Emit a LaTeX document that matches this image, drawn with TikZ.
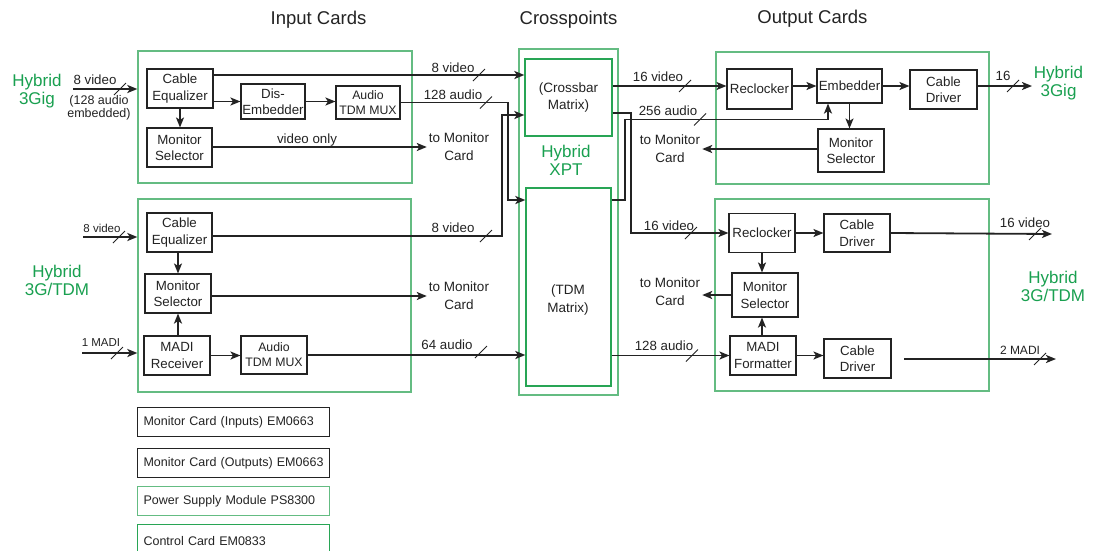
\documentclass[tikz,border=0pt]{standalone}
\usepackage{fontspec}
\setmainfont{Liberation Sans}
\usetikzlibrary{arrows.meta}
\definecolor{gfr}{RGB}{100,188,130}
\definecolor{gdk}{RGB}{40,165,85}
\definecolor{gtx}{RGB}{25,160,80}
\definecolor{ink}{RGB}{35,35,35}
\newcommand{\busmark}[1]{\draw[slash] (#1) ++(-6,6) -- ++(12,-12);}
\tikzset{
  card/.style={draw=gfr, line width=1.3pt, inner sep=0pt},
  cardd/.style={draw=gdk, line width=1.3pt, inner sep=0pt},
  blk/.style={draw=ink, line width=1.1pt, align=center, inner sep=0pt, text=ink, font=\fontsize{13.3}{16.5}\selectfont},
  blks/.style={blk, font=\fontsize{12.3}{15}\selectfont},
  lbl/.style={text=ink, inner sep=0pt, align=center, font=\fontsize{13.3}{16}\selectfont},
  lbls/.style={text=ink, inner sep=0pt, font=\fontsize{11.5}{14}\selectfont},
  tmc/.style={text=ink, inner sep=2pt, align=center, font=\fontsize{13.5}{18}\selectfont},
  grn/.style={text=gtx, inner sep=0pt, align=center, font=\fontsize{17}{18}\selectfont},
  ttl/.style={text=ink, inner sep=0pt, font=\fontsize{18.5}{20}\selectfont},
  legend/.style={line width=1.1pt, inner xsep=6pt, inner ysep=0pt, minimum width=192pt, text width=180pt, align=left, text=ink, font=\fontsize{12.5}{15}\selectfont, anchor=north west},
  wire/.style={draw=ink, line width=1.8pt},
  arr/.style={wire, -{Stealth[length=10pt,width=8pt,inset=2.5pt]}},
  slash/.style={draw=ink, line width=0.8pt}
}
\begin{document}
\begin{tikzpicture}[x=1pt,y=-1pt]
\useasboundingbox[fill=white] (0,0) rectangle (1093,550);

% titles
\node[ttl] (t1) at (318.5,20) {Input Cards};
\node[ttl] (t2) at (568.5,20) {Crosspoints};
\node[ttl] (t3) at (812.5,19) {Output Cards};

% ---------- input card 1 ----------
\node[card, minimum width=274pt, minimum height=132pt] (ic1) at (275,117) {};
\node[blk, minimum width=66pt, minimum height=39pt] (ce1) at (180,88.5) {Cable\\Equalizer};
\node[blk, minimum width=64pt, minimum height=35pt] (de) at (273,101.5) {Dis-\\Embedder};
\node[blks, minimum width=64pt, minimum height=33pt] (am1) at (368,102.5) {Audio\\TDM MUX};
\node[blk, minimum width=65pt, minimum height=39pt] (ms1) at (179.5,147.5) {Monitor\\Selector};
\node[tmc] (tm1) at (459,147) {to Monitor\\Card};
\node[lbl] (vo) at (307,140) {video only};

\node[grn] (h1) at (37,91) {Hybrid\\3Gig};
\coordinate (in1) at (73,89);
\node[lbl] (l1) at (95,80) {8 video};
\node[lbl, font=\fontsize{12.5}{13}\selectfont] (l1b) at (99,108) {(128 audio\\embedded)};

% ---------- input card 2 ----------
\node[card, minimum width=273pt, minimum height=193pt] (ic2) at (274.5,295.5) {};
\node[blk, minimum width=65pt, minimum height=39pt] (ce2) at (179.5,232.5) {Cable\\Equalizer};
\node[blk, minimum width=66pt, minimum height=39pt] (ms2) at (178,293.5) {Monitor\\Selector};
\node[blk, minimum width=66pt, minimum height=39pt] (mr) at (177,355.5) {MADI\\Receiver};
\node[blks, minimum width=66pt, minimum height=38pt] (am2) at (274,355) {Audio\\TDM MUX};
\node[tmc] (tm2) at (459,296) {to Monitor\\Card};

\node[grn] (h2) at (57,280) {Hybrid\\3G/TDM};
\coordinate (in2) at (83,237);
\coordinate (in3) at (82,353);
\node[lbls] (l2) at (102,228) {8 video};
\node[lbls] (l3) at (101,343) {1 MADI};

% ---------- crosspoints ----------
\node[card, minimum width=99pt, minimum height=346pt] (xpt) at (568.5,222) {};
\node[cardd, minimum width=87pt, minimum height=77pt, align=center, text=ink, font=\fontsize{13.5}{17.5}\selectfont] (xb) at (568.5,97.5) {(Crossbar\\Matrix)};
\node[cardd, minimum width=85pt, minimum height=198pt] (tdm) at (568.5,287) {};
\node[lbl, font=\fontsize{13.5}{17.5}\selectfont] (tdmt) at (568,300) {(TDM\\Matrix)};
\node[grn] (hx) at (566,160) {Hybrid\\XPT};

% ---------- output card 1 ----------
\node[card, minimum width=273pt, minimum height=132pt] (oc1) at (852.5,118) {};
\node[blk, minimum width=65pt, minimum height=40pt] (rc1) at (759.5,89) {Reclocker};
\node[blk, minimum width=65pt, minimum height=34pt] (em) at (849.5,86) {Embedder};
\node[blk, minimum width=67pt, minimum height=39pt] (cd1) at (943.5,89.5) {Cable\\Driver};
\node[blk, minimum width=66pt, minimum height=43pt] (mso1) at (851,150.5) {Monitor\\Selector};
\node[tmc] (tmo1) at (670,149) {to Monitor\\Card};
\node[grn] (h3) at (1058.5,83) {Hybrid\\3Gig};
\coordinate (out1) at (1032,86);
\node[lbl] (l16) at (1003,76) {16};

% ---------- output card 2 ----------
\node[card, minimum width=274pt, minimum height=192pt] (oc2) at (852,295) {};
\node[blk, minimum width=66pt, minimum height=39pt] (rc2) at (762,233) {Reclocker};
\node[blk, minimum width=66pt, minimum height=38pt] (cd2) at (857,233) {Cable\\Driver};
\node[blk, minimum width=66pt, minimum height=44pt] (mso2) at (765,295) {Monitor\\Selector};
\node[blk, minimum width=66pt, minimum height=39pt] (mf) at (763,355.5) {MADI\\Formatter};
\node[blk, minimum width=67pt, minimum height=39pt] (cd3) at (857.5,358.5) {Cable\\Driver};
\node[tmc] (tmo2) at (670,292) {to Monitor\\Card};
\node[grn] (h4) at (1053,286) {Hybrid\\3G/TDM};
\coordinate (out2) at (1052,234);
\coordinate (madi0) at (904,359);
\coordinate (madi1) at (1056,359);
\node[lbl] (l16b) at (1025,223) {16 video};
\node[lbl, font=\fontsize{12}{14}\selectfont] (l2m) at (1020,350) {2 MADI};

% ---------- legend boxes ----------
\node[legend, draw=ink, minimum height=29pt] (b1) at (137,407) {Monitor Card (Inputs) EM0663};
\node[legend, draw=ink, minimum height=29pt] (b2) at (137,448) {Monitor Card (Outputs) EM0663};
\node[legend, draw=gfr, minimum height=29pt] (b3) at (137,486) {Power Supply Module PS8300};
\node[legend, draw=gdk, minimum height=32pt] (b4) at (137,524) {Control Card EM0833};

% ---------- row coordinates ----------
\coordinate (y75) at (0,75);
\coordinate (y86) at (0,86);
\coordinate (y113) at (0,113);
\coordinate (y115) at (0,115);
\coordinate (y200) at (0,200);
\coordinate (y236) at (0,236);
\coordinate (embin) at (828,119.5);

% ---------- input card 1 wiring ----------
\draw[arr] (in1) -- (ic1.west |- in1);
\busmark{120,89}
\draw[arr] (ce1.east |- de.west) -- (de.west);
\draw[arr] (de.east) -- (am1.west |- de.east);
\draw[arr] (ce1.south) -- (ce1.south |- ms1.north);
\draw[arr] (ms1.east |- tm1.west) -- (tm1.west);

% ---------- input card 2 wiring ----------
\draw[arr] (in2) -- (ic2.west |- in2);
\busmark{119,237}
\draw[arr] (in3) -- (ic2.west |- in3);
\busmark{117,353}
\draw[arr] (ce2.south -| ms2.north) -- (ms2.north);
\draw[arr] (mr.north -| ms2.south) -- (ms2.south);
\draw[arr] (mr.east) -- (am2.west |- mr.east);
\draw[arr] (ms2.east |- tm2.west) -- (tm2.west);

% ---------- into crosspoints ----------
\draw[arr] (ce1.east |- y75) -- (xb.west |- y75);
\node[lbl] (w1) at (453,68) {8 video};
\busmark{479,75}
\draw[arr] (am1.east) -- (508,102.5) |- (tdm.west |- y200);
\node[lbl] (w2) at (453,95) {128 audio};
\busmark{486,102.5}
\draw[arr] (ce2.east |- y236) -- (502,236) |- (xb.west |- y115);
\node[lbl] (w3) at (453,228) {8 video};
\busmark{486,236}
\draw[arr] (am2.east) -- (tdm.west |- am2.east);
\node[lbl] (w4) at (447,345) {64 audio};
\busmark{481,352}

% ---------- out of crosspoints ----------
\draw[arr] (xb.east |- y86) -- (rc1.west |- y86);
\node[lbl] (w5) at (658,77) {16 video};
\busmark{685,86}
\draw[arr] (xb.east |- y113) -- (631,113) |- (rc2.west);
\node[lbl] (w6) at (669,226) {16 video};
\busmark{691,233}
\draw[arr] (tdm.east |- y200) -- (625,200) |- (embin) -- (em.south -| embin);
\node[lbl] (w7) at (668,111) {256 audio};
\busmark{700,119.5}
\draw[arr] (tdm.east |- mf.west) -- (mf.west);
\node[lbl] (w8) at (664,346) {128 audio};
\busmark{692,355.5}

% ---------- output card 1 wiring ----------
\draw[arr] (rc1.east |- y86) -- (em.west |- y86);
\draw[arr] (em.east |- y86) -- (cd1.west |- y86);
\draw[arr] (cd1.east |- out1) -- (out1);
\busmark{1013,86}
\draw[arr] (em.south) -- (em.south |- mso1.north);
\draw[arr] (mso1.west |- tmo1.east) -- (tmo1.east);

% ---------- output card 2 wiring ----------
\draw[arr] (rc2.east) -- (cd2.west);
\draw[arr] (cd2.east) -- (out2);
\busmark{1035,234}
\draw[arr] (rc2.south) -- (rc2.south |- mso2.north);
\draw[arr] (mf.north -| rc2.south) -- (rc2.south |- mso2.south);
\draw[arr] (mso2.west) -- (tmo2.east |- mso2.west);
\draw[arr] (mf.east) -- (cd3.west |- mf.east);
\draw[arr] (madi0) -- (madi1);
\busmark{1040,359}
\end{tikzpicture}
\end{document}
